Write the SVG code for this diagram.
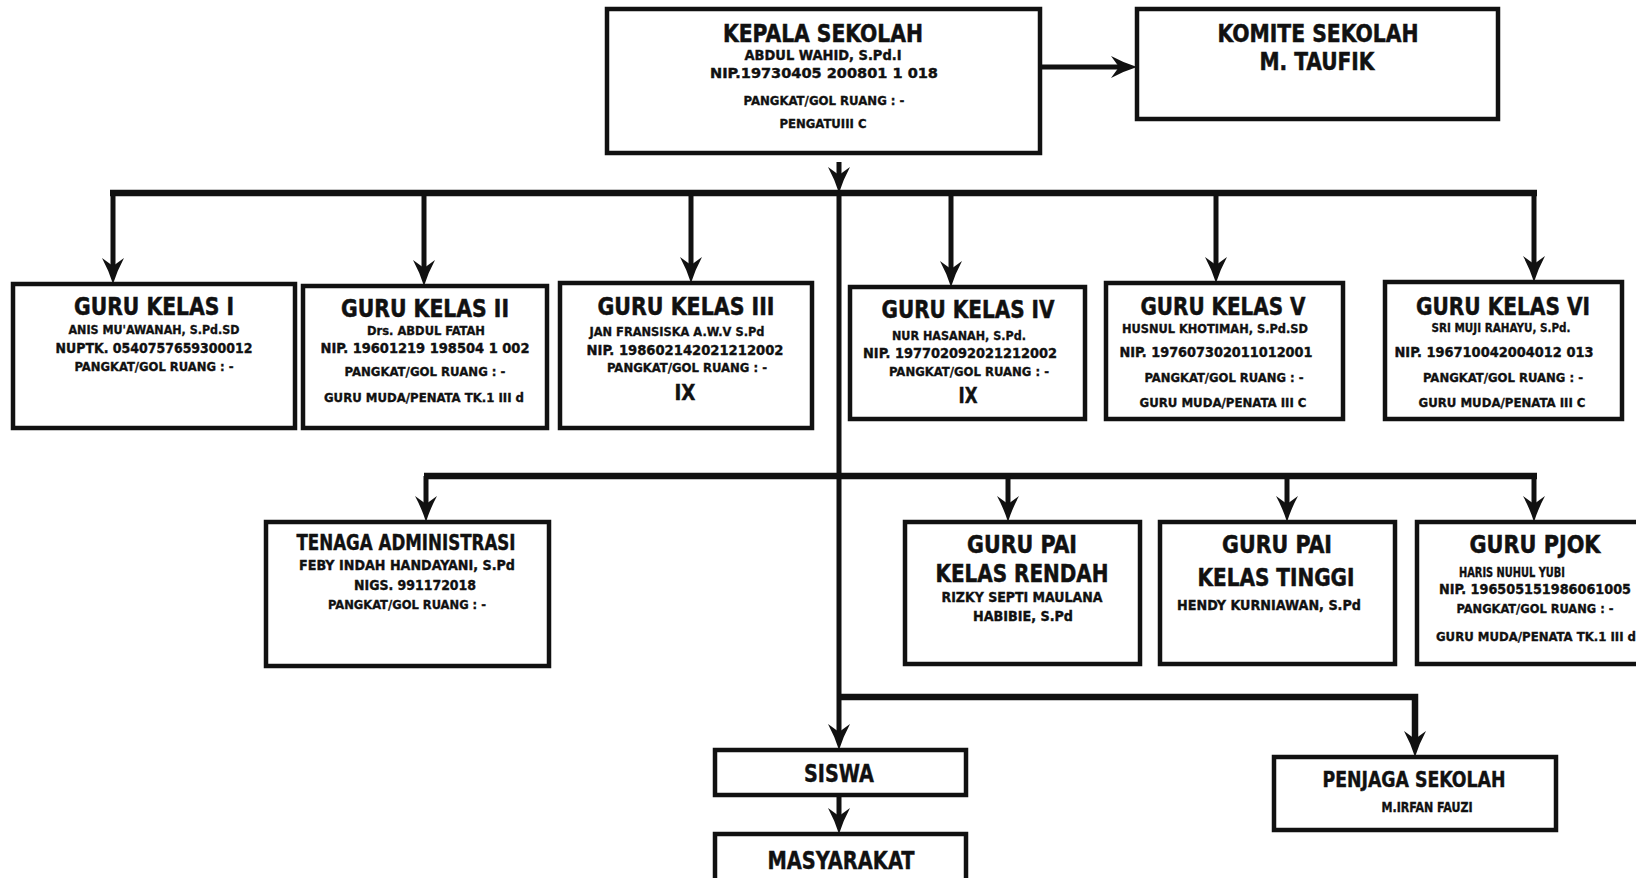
<svg xmlns="http://www.w3.org/2000/svg" width="1636" height="878" viewBox="0 0 1636 878">
<style>
text{font-family:"Liberation Sans Narrow","DejaVu Sans Condensed","Liberation Sans",sans-serif;font-weight:bold;fill:#111;text-anchor:middle}
.box{fill:#fff;stroke:#111;stroke-width:4.5}
.t{font-size:25px;stroke:#111;stroke-width:0.5}
.s{font-size:13.5px;stroke:#111;stroke-width:0.35}
.xs{font-size:12px;stroke:#111;stroke-width:0.3}
.m{font-size:21px;stroke:#111;stroke-width:0.4}
.l{font-size:24px;stroke:#111;stroke-width:0.4}
.ln{fill:none;stroke:#111;stroke-width:5}
.bar{fill:none;stroke:#111;stroke-width:6.5}
</style>
<defs>
<marker id="ah" markerUnits="userSpaceOnUse" viewBox="-2 -13 30 26" markerWidth="30" markerHeight="26" refX="15" refY="0" orient="auto">
<path d="M0,-11 Q13,-4 26,0 Q13,4 0,11 L8,0 Z" fill="#111"/>
</marker>
</defs>
<rect width="1636" height="878" fill="#fff"/>

<g id="connectors">
<path class="ln" d="M1040,67 H1126" marker-end="url(#ah)"/>
<path class="ln" d="M839,162 V182" marker-end="url(#ah)"/>
<path class="bar" d="M110,193 H1537"/>
<path class="ln" d="M839,193 V739" marker-end="url(#ah)"/>
<path class="ln" d="M113,193 V273" marker-end="url(#ah)"/>
<path class="ln" d="M424,193 V275" marker-end="url(#ah)"/>
<path class="ln" d="M691,193 V272" marker-end="url(#ah)"/>
<path class="ln" d="M951,193 V276" marker-end="url(#ah)"/>
<path class="ln" d="M1216,193 V272" marker-end="url(#ah)"/>
<path class="ln" d="M1534,193 V271" marker-end="url(#ah)"/>
<path class="bar" d="M424,476 H1537"/>
<path class="ln" d="M426,476 V511" marker-end="url(#ah)"/>
<path class="ln" d="M1008,476 V511" marker-end="url(#ah)"/>
<path class="ln" d="M1287,476 V511" marker-end="url(#ah)"/>
<path class="ln" d="M1534,476 V511" marker-end="url(#ah)"/>
<path class="bar" d="M839,697 H1415 V746" marker-end="url(#ah)"/>
<path class="ln" d="M839,795 V823" marker-end="url(#ah)"/>
</g>

<g id="kepala">
<rect class="box" x="607" y="9" width="433" height="144"/>
<text class="t" x="823" y="42" textLength="200" lengthAdjust="spacingAndGlyphs">KEPALA SEKOLAH</text>
<text class="s" x="823" y="60" textLength="157" lengthAdjust="spacingAndGlyphs">ABDUL WAHID, S.Pd.I</text>
<text class="s" x="824" y="78" textLength="228" lengthAdjust="spacingAndGlyphs">NIP.19730405 200801 1 018</text>
<text class="xs" x="824" y="105" textLength="161" lengthAdjust="spacingAndGlyphs">PANGKAT/GOL RUANG : -</text>
<text class="xs" x="823" y="128" textLength="87" lengthAdjust="spacingAndGlyphs">PENGATUIII C</text>
</g>

<g id="komite">
<rect class="box" x="1137" y="9" width="361" height="110"/>
<text class="t" x="1318" y="42" textLength="201" lengthAdjust="spacingAndGlyphs">KOMITE SEKOLAH</text>
<text class="t" x="1317" y="70" textLength="115" lengthAdjust="spacingAndGlyphs">M. TAUFIK</text>
</g>

<g id="guru1">
<rect class="box" x="13" y="284" width="282" height="144"/>
<text class="t" x="154" y="315" textLength="160" lengthAdjust="spacingAndGlyphs">GURU KELAS I</text>
<text class="xs" x="154" y="334" textLength="171" lengthAdjust="spacingAndGlyphs">ANIS MU'AWANAH, S.Pd.SD</text>
<text class="s" x="154" y="353" textLength="197" lengthAdjust="spacingAndGlyphs">NUPTK. 0540757659300012</text>
<text class="xs" x="154" y="371" textLength="159" lengthAdjust="spacingAndGlyphs">PANGKAT/GOL RUANG : -</text>
</g>

<g id="guru2">
<rect class="box" x="303" y="286" width="244" height="142"/>
<text class="t" x="425" y="317" textLength="168" lengthAdjust="spacingAndGlyphs">GURU KELAS II</text>
<text class="xs" x="426" y="335" textLength="118" lengthAdjust="spacingAndGlyphs">Drs. ABDUL FATAH</text>
<text class="s" x="425" y="353" textLength="209" lengthAdjust="spacingAndGlyphs">NIP. 19601219 198504 1 002</text>
<text class="xs" x="425" y="376" textLength="161" lengthAdjust="spacingAndGlyphs">PANGKAT/GOL RUANG : -</text>
<text class="xs" x="424" y="402" textLength="200" lengthAdjust="spacingAndGlyphs">GURU MUDA/PENATA TK.1 III d</text>
</g>

<g id="guru3">
<rect class="box" x="560" y="283" width="252" height="145"/>
<text class="t" x="686" y="315" textLength="177" lengthAdjust="spacingAndGlyphs">GURU KELAS III</text>
<text class="xs" x="677" y="336" textLength="175" lengthAdjust="spacingAndGlyphs">JAN FRANSISKA A.W.V S.Pd</text>
<text class="s" x="685" y="355" textLength="197" lengthAdjust="spacingAndGlyphs">NIP. 198602142021212002</text>
<text class="xs" x="687" y="372" textLength="160" lengthAdjust="spacingAndGlyphs">PANGKAT/GOL RUANG : -</text>
<text class="m" x="685" y="400" textLength="21" lengthAdjust="spacingAndGlyphs">IX</text>
</g>

<g id="guru4">
<rect class="box" x="850" y="287" width="235" height="132"/>
<text class="t" x="968" y="318" textLength="173" lengthAdjust="spacingAndGlyphs">GURU KELAS IV</text>
<text class="xs" x="959" y="340" textLength="134" lengthAdjust="spacingAndGlyphs">NUR HASANAH, S.Pd.</text>
<text class="s" x="960" y="358" textLength="194" lengthAdjust="spacingAndGlyphs">NIP. 197702092021212002</text>
<text class="xs" x="969" y="376" textLength="160" lengthAdjust="spacingAndGlyphs">PANGKAT/GOL RUANG : -</text>
<text class="m" x="968" y="403" textLength="19" lengthAdjust="spacingAndGlyphs">IX</text>
</g>

<g id="guru5">
<rect class="box" x="1106" y="283" width="237" height="136"/>
<text class="t" x="1223" y="315" textLength="165" lengthAdjust="spacingAndGlyphs">GURU KELAS V</text>
<text class="xs" x="1215" y="333" textLength="186" lengthAdjust="spacingAndGlyphs">HUSNUL KHOTIMAH, S.Pd.SD</text>
<text class="s" x="1216" y="357" textLength="193" lengthAdjust="spacingAndGlyphs">NIP. 197607302011012001</text>
<text class="xs" x="1224" y="382" textLength="159" lengthAdjust="spacingAndGlyphs">PANGKAT/GOL RUANG : -</text>
<text class="xs" x="1223" y="407" textLength="167" lengthAdjust="spacingAndGlyphs">GURU MUDA/PENATA III C</text>
</g>

<g id="guru6">
<rect class="box" x="1385" y="282" width="237" height="137"/>
<text class="t" x="1503" y="315" textLength="174" lengthAdjust="spacingAndGlyphs">GURU KELAS VI</text>
<text class="xs" x="1501" y="332" textLength="139" lengthAdjust="spacingAndGlyphs">SRI MUJI RAHAYU, S.Pd.</text>
<text class="s" x="1494" y="357" textLength="199" lengthAdjust="spacingAndGlyphs">NIP. 196710042004012 013</text>
<text class="xs" x="1503" y="382" textLength="160" lengthAdjust="spacingAndGlyphs">PANGKAT/GOL RUANG : -</text>
<text class="xs" x="1502" y="407" textLength="167" lengthAdjust="spacingAndGlyphs">GURU MUDA/PENATA III C</text>
</g>

<g id="tenaga">
<rect class="box" x="266" y="522" width="283" height="144"/>
<text class="m" x="406" y="550" textLength="219" lengthAdjust="spacingAndGlyphs">TENAGA ADMINISTRASI</text>
<text class="s" x="407" y="570" textLength="216" lengthAdjust="spacingAndGlyphs">FEBY INDAH HANDAYANI, S.Pd</text>
<text class="s" x="415" y="590" textLength="122" lengthAdjust="spacingAndGlyphs">NIGS. 991172018</text>
<text class="xs" x="407" y="609" textLength="158" lengthAdjust="spacingAndGlyphs">PANGKAT/GOL RUANG : -</text>
</g>

<g id="pai-rendah">
<rect class="box" x="905" y="522" width="235" height="142"/>
<text class="t" x="1022" y="553" textLength="110" lengthAdjust="spacingAndGlyphs">GURU PAI</text>
<text class="t" x="1022" y="582" textLength="173" lengthAdjust="spacingAndGlyphs">KELAS RENDAH</text>
<text class="s" x="1022" y="602" textLength="161" lengthAdjust="spacingAndGlyphs">RIZKY SEPTI MAULANA</text>
<text class="s" x="1023" y="621" textLength="100" lengthAdjust="spacingAndGlyphs">HABIBIE, S.Pd</text>
</g>

<g id="pai-tinggi">
<rect class="box" x="1160" y="522" width="235" height="142"/>
<text class="t" x="1277" y="553" textLength="110" lengthAdjust="spacingAndGlyphs">GURU PAI</text>
<text class="t" x="1276" y="586" textLength="157" lengthAdjust="spacingAndGlyphs">KELAS TINGGI</text>
<text class="s" x="1269" y="610" textLength="184" lengthAdjust="spacingAndGlyphs">HENDY KURNIAWAN, S.Pd</text>
</g>

<g id="pjok">
<rect class="box" x="1417" y="522" width="240" height="142"/>
<text class="t" x="1535" y="553" textLength="131" lengthAdjust="spacingAndGlyphs">GURU PJOK</text>
<text class="s" x="1512" y="577" textLength="106" lengthAdjust="spacingAndGlyphs">HARIS NUHUL YUBI</text>
<text class="s" x="1535" y="594" textLength="192" lengthAdjust="spacingAndGlyphs">NIP. 196505151986061005</text>
<text class="xs" x="1535" y="613" textLength="157" lengthAdjust="spacingAndGlyphs">PANGKAT/GOL RUANG : -</text>
<text class="xs" x="1536" y="641" textLength="200" lengthAdjust="spacingAndGlyphs">GURU MUDA/PENATA TK.1 III d</text>
</g>

<g id="siswa">
<rect class="box" x="715" y="750" width="251" height="45"/>
<text class="l" x="839" y="782" textLength="70" lengthAdjust="spacingAndGlyphs">SISWA</text>
</g>

<g id="masyarakat">
<rect class="box" x="715" y="834" width="251" height="60"/>
<text class="l" x="841" y="869" textLength="147" lengthAdjust="spacingAndGlyphs">MASYARAKAT</text>
</g>

<g id="penjaga">
<rect class="box" x="1274" y="757" width="282" height="73"/>
<text class="m" x="1414" y="787" textLength="183" lengthAdjust="spacingAndGlyphs">PENJAGA SEKOLAH</text>
<text class="s" x="1427" y="812" textLength="91" lengthAdjust="spacingAndGlyphs">M.IRFAN FAUZI</text>
</g>
</svg>
